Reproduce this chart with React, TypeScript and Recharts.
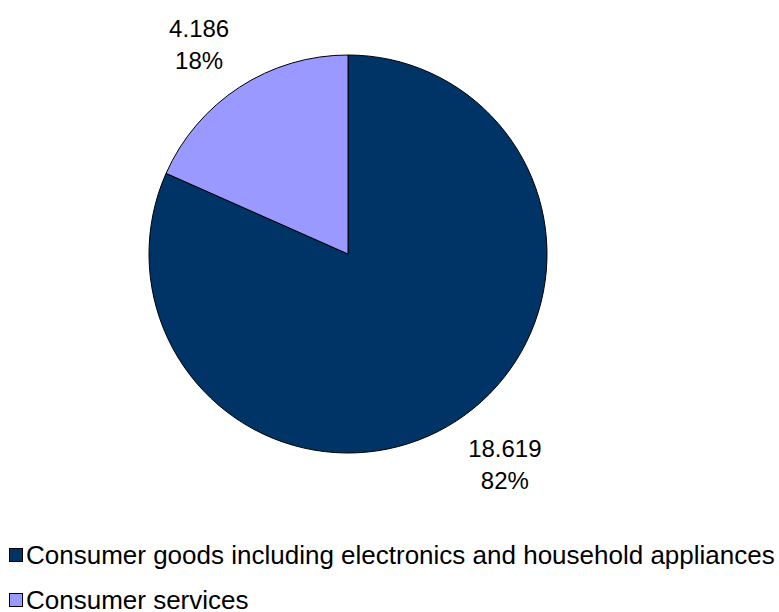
import React from 'react';
import { PieChart, Pie, Cell, Legend } from 'recharts';

const categories = ['Consumer goods including electronics and household appliances', 'Consumer services'];
const values = [18619, 4186];
const valueLabels = ['18.619', '4.186'];
const percentLabels = ['82%', '18%'];
const colors = ['#003366', '#9999FF'];

const data = categories.map((name, i) => ({ name, value: values[i] }));

const RAD = Math.PI / 180;
const FONT = '"Liberation Sans", Arial, sans-serif';

// two-line label (value + share) set outside each slice
const renderLabel = (props: any) => {
  const { cx, cy, midAngle, outerRadius, index } = props;
  const cos = Math.cos(-midAngle * RAD);
  const sin = Math.sin(-midAngle * RAD);
  const r = outerRadius + 52;
  const x = cx + r * cos + Math.sign(cos) * 16 + 4;
  const y = cy + r * sin;
  return (
    <text x={x} y={y} textAnchor="middle" fontFamily={FONT} fontSize={24} fill="#000">
      <tspan x={x} dy={-7}>{valueLabels[index]}</tspan>
      <tspan x={x} dy={32}>{percentLabels[index]}</tspan>
    </text>
  );
};

const renderLegend = (props: any) => {
  const { payload } = props;
  return (
    <div style={{ fontFamily: FONT, fontSize: 26, lineHeight: '16px', color: '#000' }}>
      {(payload || []).map((entry: any, i: number) => (
        <div
          key={`leg-${i}`}
          style={{ display: 'flex', alignItems: 'center', height: i === 0 ? 48 : 16, marginTop: i === 0 ? 0 : 13 }}
        >
          <span
            style={{
              display: 'inline-block',
              width: 12,
              height: 12,
              background: entry.color,
              border: '1px solid #000',
              marginRight: 3,
            }}
          />
          <span>{entry.value}</span>
        </div>
      ))}
    </div>
  );
};

export default function App() {
  return (
    <div style={{ position: 'absolute', left: 0, top: 0, background: '#fff' }}>
      <PieChart width={779} height={612} margin={{ top: 0, right: 0, bottom: 0, left: 0 }}>
        <Pie
          data={data}
          dataKey="value"
          nameKey="name"
          cx={348}
          cy={254}
          outerRadius={199}
          startAngle={90}
          endAngle={-270}
          stroke="#000"
          strokeWidth={1}
          label={renderLabel}
          labelLine={false}
          isAnimationActive={false}
        >
          {data.map((entry, i) => (
            <Cell key={`cell-${i}`} fill={colors[i]} />
          ))}
        </Pie>
        <Legend
          layout="horizontal"
          verticalAlign="bottom"
          align="left"
          content={renderLegend}
          wrapperStyle={{ left: 9, top: 531, bottom: 'auto', width: 770 }}
        />
      </PieChart>
    </div>
  );
}
